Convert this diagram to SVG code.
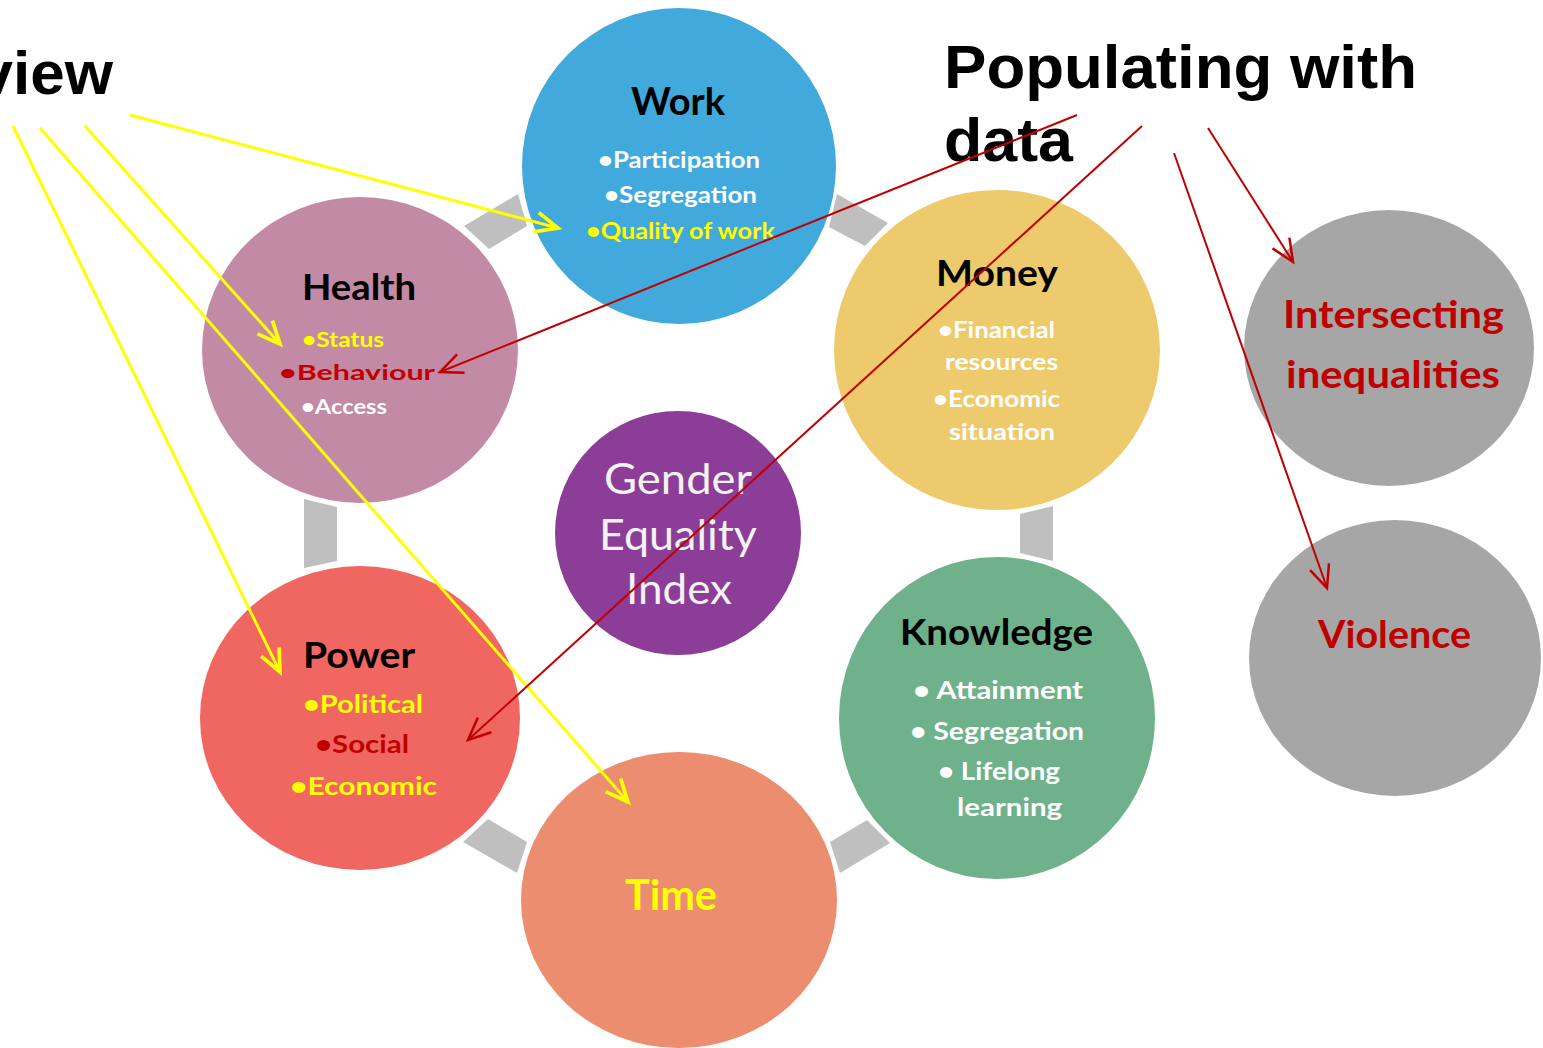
<svg xmlns="http://www.w3.org/2000/svg" width="1543" height="1048" viewBox="0 0 1543 1048">
<style>
.t{font-family:Lato,"Open Sans",sans-serif;font-weight:bold}
.h{font-family:"Liberation Sans",Arial,sans-serif;font-weight:bold;font-size:62px;fill:#000}
.link{fill:#BFBFBF}
.y{stroke:#FFFF00;stroke-width:3;fill:none}
.r{stroke:#C00000;stroke-width:2;fill:none}
</style>
<defs>
<marker id="ay" markerUnits="userSpaceOnUse" markerWidth="30" markerHeight="30" refX="20" refY="10" orient="auto" viewBox="0 0 24 20">
<path d="M2,2 L20,10 L2,18" fill="none" stroke="#FFFF00" stroke-width="3"/>
</marker>
<marker id="ar" markerUnits="userSpaceOnUse" markerWidth="30" markerHeight="30" refX="20" refY="10" orient="auto" viewBox="0 0 24 20">
<path d="M2,2 L20,10 L2,18" fill="none" stroke="#C00000" stroke-width="2"/>
</marker>
</defs>
<rect width="1543" height="1048" fill="#fff"/>
<g id="links">
<polygon class="link" points="464,226 518,194 527,226 489,249"/>
<polygon class="link" points="837,194 888,223 865,246 829,227"/>
<polygon class="link" points="304,499 337,507 337,561 304,568"/>
<polygon class="link" points="1020,514 1053,506 1053,561 1020,553"/>
<polygon class="link" points="463,842 488,819 527,842 517,873"/>
<polygon class="link" points="830,842 867,820 890,843 840,873"/>
</g>
<g id="work">
<ellipse cx="679" cy="166" rx="157" ry="158" fill="#41A9DB"/>
<text class="t" x="631" y="115" font-size="38" textLength="94" lengthAdjust="spacingAndGlyphs" fill="#000">Work</text>
<text class="t" x="598" y="168" font-size="22" textLength="162" lengthAdjust="spacingAndGlyphs" fill="#fff">•Participation</text>
<text class="t" x="604" y="203" font-size="22" textLength="153" lengthAdjust="spacingAndGlyphs" fill="#fff">•Segregation</text>
<text class="t" x="586" y="239" font-size="22" textLength="189" lengthAdjust="spacingAndGlyphs" fill="#FFFF00">•Quality of work</text>
</g>
<g id="health">
<ellipse cx="360" cy="350" rx="158" ry="153" fill="#C38AA6"/>
<text class="t" x="302" y="300" font-size="36" textLength="114" lengthAdjust="spacingAndGlyphs" fill="#000">Health</text>
<text class="t" x="302" y="347" font-size="20" textLength="82" lengthAdjust="spacingAndGlyphs" fill="#FFFF00">•Status</text>
<text class="t" x="279" y="380" font-size="20" textLength="156" lengthAdjust="spacingAndGlyphs" fill="#C00000">•Behaviour</text>
<text class="t" x="301" y="414" font-size="20" textLength="86" lengthAdjust="spacingAndGlyphs" fill="#fff">•Access</text>
</g>
<g id="money">
<ellipse cx="997" cy="350" rx="163" ry="160" fill="#EDCB6D"/>
<text class="t" x="936" y="286" font-size="36" textLength="122" lengthAdjust="spacingAndGlyphs" fill="#000">Money</text>
<text class="t" x="938" y="338" font-size="22" textLength="117" lengthAdjust="spacingAndGlyphs" fill="#fff">•Financial</text>
<text class="t" x="945" y="370" font-size="22" textLength="113" lengthAdjust="spacingAndGlyphs" fill="#fff">resources</text>
<text class="t" x="933" y="407" font-size="22" textLength="127" lengthAdjust="spacingAndGlyphs" fill="#fff">•Economic</text>
<text class="t" x="949" y="440" font-size="22" textLength="106" lengthAdjust="spacingAndGlyphs" fill="#fff">situation</text>
</g>
<g id="index">
<ellipse cx="678" cy="533" rx="123" ry="122" fill="#8B3D97"/>
<text x="604" y="494" font-family="Lato,'Open Sans',sans-serif" font-size="42" textLength="148" lengthAdjust="spacingAndGlyphs" fill="#F2F2F2">Gender</text>
<text x="599" y="550" font-family="Lato,'Open Sans',sans-serif" font-size="42" textLength="158" lengthAdjust="spacingAndGlyphs" fill="#F2F2F2">Equality</text>
<text x="626" y="604" font-family="Lato,'Open Sans',sans-serif" font-size="42" textLength="106" lengthAdjust="spacingAndGlyphs" fill="#F2F2F2">Index</text>
</g>
<g id="power">
<ellipse cx="360" cy="718" rx="160" ry="152" fill="#F06762"/>
<text class="t" x="303" y="668" font-size="36" textLength="112" lengthAdjust="spacingAndGlyphs" fill="#000">Power</text>
<text class="t" x="303" y="713" font-size="25" textLength="120" lengthAdjust="spacingAndGlyphs" fill="#FFFF00">•Political</text>
<text class="t" x="315" y="753" font-size="25" textLength="94" lengthAdjust="spacingAndGlyphs" fill="#C00000">•Social</text>
<text class="t" x="290" y="795" font-size="25" textLength="147" lengthAdjust="spacingAndGlyphs" fill="#FFFF00">•Economic</text>
</g>
<g id="knowledge">
<ellipse cx="997" cy="718" rx="158" ry="161" fill="#6FB18A"/>
<text class="t" x="900" y="645" font-size="36" textLength="193" lengthAdjust="spacingAndGlyphs" fill="#000">Knowledge</text>
<text class="t" x="913" y="699" font-size="24" textLength="170" lengthAdjust="spacingAndGlyphs" fill="#fff">• Attainment</text>
<text class="t" x="910" y="740" font-size="24" textLength="174" lengthAdjust="spacingAndGlyphs" fill="#fff">• Segregation</text>
<text class="t" x="938" y="780" font-size="24" textLength="122" lengthAdjust="spacingAndGlyphs" fill="#fff">• Lifelong</text>
<text class="t" x="957" y="816" font-size="24" textLength="105" lengthAdjust="spacingAndGlyphs" fill="#fff">learning</text>
</g>
<g id="time">
<ellipse cx="679" cy="900" rx="158" ry="148" fill="#EB8D6E"/>
<text class="t" x="625" y="910" font-size="42" textLength="92" lengthAdjust="spacingAndGlyphs" fill="#FFFF00">Time</text>
</g>
<g id="intersecting">
<ellipse cx="1389" cy="348" rx="145" ry="138" fill="#A6A6A6"/>
<text class="t" x="1283" y="328" font-size="38" textLength="221" lengthAdjust="spacingAndGlyphs" fill="#C00000">Intersecting</text>
<text class="t" x="1286" y="388" font-size="38" textLength="214" lengthAdjust="spacingAndGlyphs" fill="#C00000">inequalities</text>
</g>
<g id="violence">
<ellipse cx="1395" cy="658" rx="146" ry="138" fill="#A6A6A6"/>
<text class="t" x="1318" y="648" font-size="38" textLength="153" lengthAdjust="spacingAndGlyphs" fill="#C00000">Violence</text>
</g>
<g id="titles">
<text class="h" x="113" y="94" text-anchor="end">view</text>
<text class="h" x="944" y="88" textLength="473" lengthAdjust="spacingAndGlyphs">Populating with</text>
<text class="h" x="944" y="161" textLength="129" lengthAdjust="spacingAndGlyphs">data</text>
</g>
<g id="connectors">
<line class="y" x1="130" y1="115" x2="558" y2="228" marker-end="url(#ay)"/>
<line class="y" x1="85" y1="126" x2="280" y2="344" marker-end="url(#ay)"/>
<line class="y" x1="40" y1="128" x2="628" y2="802" marker-end="url(#ay)"/>
<line class="y" x1="13" y1="126" x2="280" y2="672" marker-end="url(#ay)"/>
<line class="r" x1="1077" y1="115" x2="440" y2="372" marker-end="url(#ar)"/>
<line class="r" x1="1142" y1="126" x2="468" y2="740" marker-end="url(#ar)"/>
<line class="r" x1="1208" y1="128" x2="1293" y2="262" marker-end="url(#ar)"/>
<line class="r" x1="1174" y1="153" x2="1327" y2="588" marker-end="url(#ar)"/>
</g>
</svg>
